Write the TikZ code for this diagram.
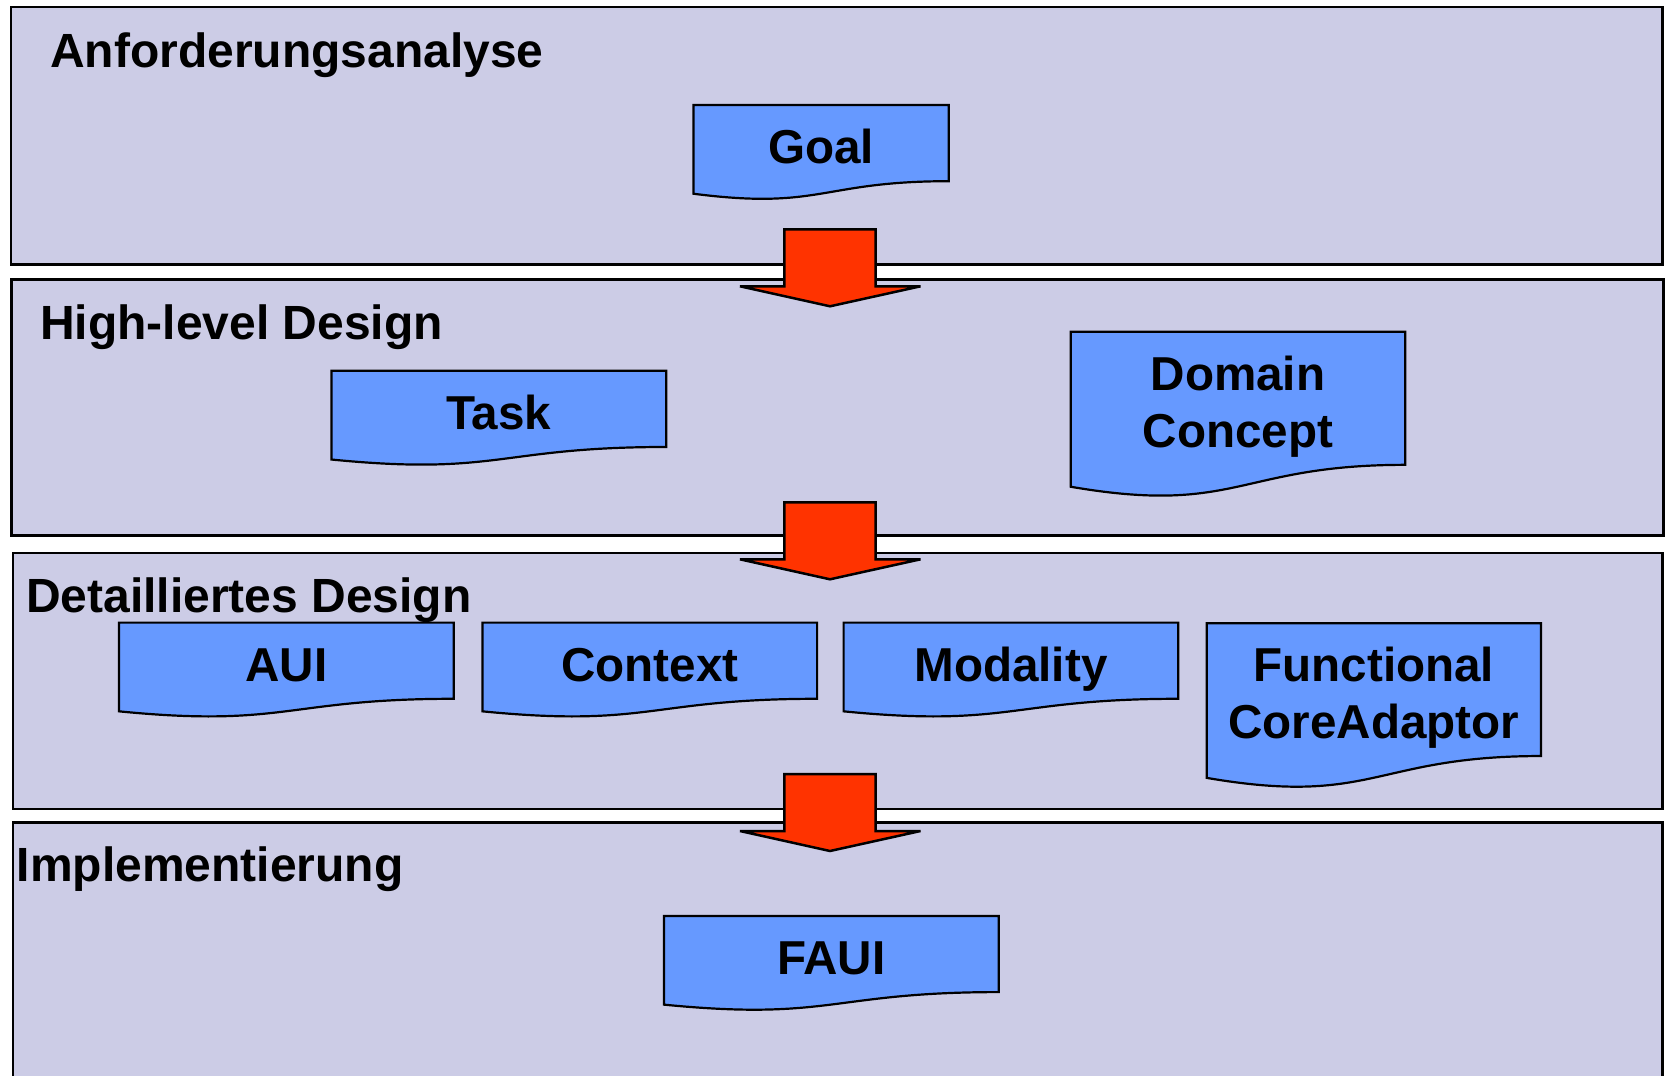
\documentclass[tikz,border=0pt]{standalone}
\usepackage{fontspec}
\setmainfont{Liberation Sans}
\definecolor{panelfill}{RGB}{204,204,230}
\definecolor{docfill}{RGB}{102,153,255}
\definecolor{arrowred}{RGB}{255,51,0}
\tikzset{
  panel/.style={draw=black, line width=2.6pt, fill=panelfill, inner sep=0pt, outer sep=0pt, anchor=north west},
  docpath/.style={draw=black, line width=2.2pt, fill=docfill, line join=miter, miter limit=2},
  doctext/.style={font=\bfseries\fontsize{47.6}{57}\selectfont, align=center, inner sep=0pt, anchor=base},
  paneltitle/.style={font=\bfseries\fontsize{48}{57}\selectfont, inner sep=0pt, anchor=base west},
  blockarrow/.style={draw=black, line width=2.5pt, fill=arrowred, line join=miter, miter limit=1.5}
}
% name, x, y, w, h, baseline (of last line), text
\newcommand\docshape[7]{%
  \pgfmathsetmacro\dxr{#2+#4}%
  \pgfmathsetmacro\dxm{#2+0.5*#4}%
  \pgfmathsetmacro\dyr{#3+0.802*#5}%
  \pgfmathsetmacro\dyc{#3+1.1075*#5}%
  \pgfmathsetmacro\dyl{#3+0.934*#5}%
  \draw[docpath] (#2,#3) -- (\dxr,#3) -- (\dxr,\dyr) .. controls (\dxm,\dyr) and (\dxm,\dyc) .. (#2,\dyl) -- cycle;
  \node[doctext] (#1) at (\dxm,#6) {#7};
}
% name, top y
\newcommand\downarrowshape[2]{%
  \pgfmathsetmacro\ahy{#2+57}%
  \pgfmathsetmacro\aty{#2+77}%
  \draw[blockarrow] (784.3,#2) -- (875.5,#2) -- (875.5,\ahy) -- (920.5,\ahy) -- (830,\aty) -- (740,\ahy) -- (784.3,\ahy) -- cycle;
  \coordinate (#1) at (830,\aty);
}
\begin{document}
\begin{tikzpicture}[x=1pt,y=-1pt]
\clip (0,0) rectangle (1666,1076);
\fill[white] (0,0) rectangle (1666,1076);

% panels
\node[panel, minimum width=1651.5pt, minimum height=257.5pt] (p1) at (11,7) {};
\node[panel, minimum width=1652pt, minimum height=256pt] (p2) at (11.5,279.5) {};
\node[panel, minimum width=1649.5pt, minimum height=256pt] (p3) at (13,553) {};
\node[panel, minimum width=1649.7pt, minimum height=290pt] (p4) at (13,822.7) {};

% panel titles
\node[paneltitle] (t1) at (50,67) {Anforderungsanalyse};
\node[paneltitle] (t2) at (40,339) {High-level Design};
\node[paneltitle] (t3) at (26,612) {Detailliertes Design};
\node[paneltitle] (t4) at (16.7,881.7) {Implementierung};

% documents
\docshape{goal}{693.5}{105}{255.3}{95}{163.5}{Goal}
\docshape{task}{331.5}{370.8}{334.7}{95}{429.3}{Task}
\docshape{domain}{1070.7}{331.7}{334.6}{166}{447.5}{Domain\\Concept}
\docshape{aui}{119}{622.6}{334.7}{95}{681}{AUI}
\docshape{context}{482.4}{622.6}{334.7}{95}{681}{Context}
\docshape{modality}{843.6}{622.6}{334.7}{95}{681}{Modality}
\docshape{fca}{1206.7}{623.3}{334.3}{165.5}{738.5}{Functional\\CoreAdaptor}
\docshape{faui}{664}{915.9}{334.7}{95}{974.4}{FAUI}

% block arrows between phases
\downarrowshape{a1}{229.3}
\downarrowshape{a2}{502.3}
\downarrowshape{a3}{774}
\end{tikzpicture}
\end{document}
